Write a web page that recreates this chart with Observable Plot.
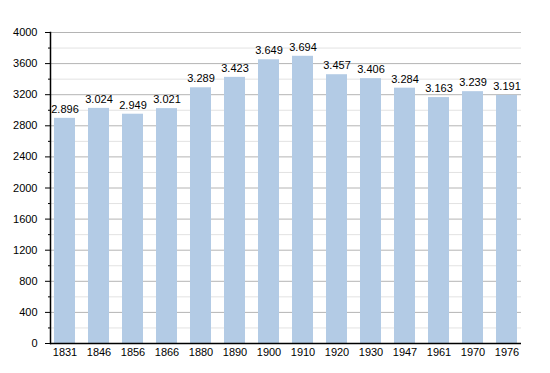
<!DOCTYPE html>
<html>
<head>
<meta charset="utf-8">
<script src="https://cdn.jsdelivr.net/npm/d3@7"></script>
<script src="https://cdn.jsdelivr.net/npm/@observablehq/plot@0.6"></script>
<style>
  html, body { margin: 0; padding: 0; background: #fff; }
  #chart svg { display: block; }
</style>
</head>
<body>
<div id="chart"></div>
<script>
const years = ["1831","1846","1856","1866","1880","1890","1900","1910","1920","1930","1947","1961","1970","1976"];
const population = [2896, 3024, 2949, 3021, 3289, 3423, 3649, 3694, 3457, 3406, 3284, 3163, 3239, 3191];
const majorTicks = [0, 400, 800, 1200, 1600, 2000, 2400, 2800, 3200, 3600, 4000];
const minorTicks = [200, 600, 1000, 1400, 1800, 2200, 2600, 3000, 3400, 3800];

const data = years.map((y, i) => ({year: y, value: population[i]}));
const fmt = v => d3.format(",")(v).replace(/,/g, ".");

const plot = Plot.plot({
  width: 550,
  height: 373,
  marginLeft: 50,
  marginRight: 29,
  marginTop: 32,
  marginBottom: 30,
  style: {fontFamily: "'Liberation Sans', Arial, sans-serif", fontSize: "11px", color: "#000", background: "#fff"},
  x: {domain: years, range: [51, 520], paddingInner: 0.39, paddingOuter: 0, label: null},
  y: {domain: [0, 4000], label: null},
  marks: [
    Plot.ruleY(minorTicks, {stroke: "#e2e2e2", strokeWidth: 1}),
    Plot.ruleY(majorTicks, {stroke: "#b4b4b4", strokeWidth: 1}),
    Plot.barY(data, {x: "year", y: "value", fill: "#b3cbe5"}),
    Plot.text(data, {x: "year", y: "value", text: d => fmt(d.value), dy: -9, fill: "#000", fontSize: 11}),
    Plot.axisY(minorTicks, {tickSize: 2, tickFormat: () => "", stroke: "#000"}),
    Plot.axisY(majorTicks, {tickSize: 5, tickPadding: 8, tickFormat: d => String(d), stroke: "#000", fill: "#000"}),
    Plot.axisX({tickSize: 0, tickPadding: 5, fill: "#000"}),
    Plot.ruleY([0], {stroke: "#000", strokeWidth: 1.5}),
    Plot.frame({anchor: "left", stroke: "#000", strokeWidth: 1.5})
  ]
});
document.getElementById("chart").appendChild(plot);
</script>
</body>
</html>
